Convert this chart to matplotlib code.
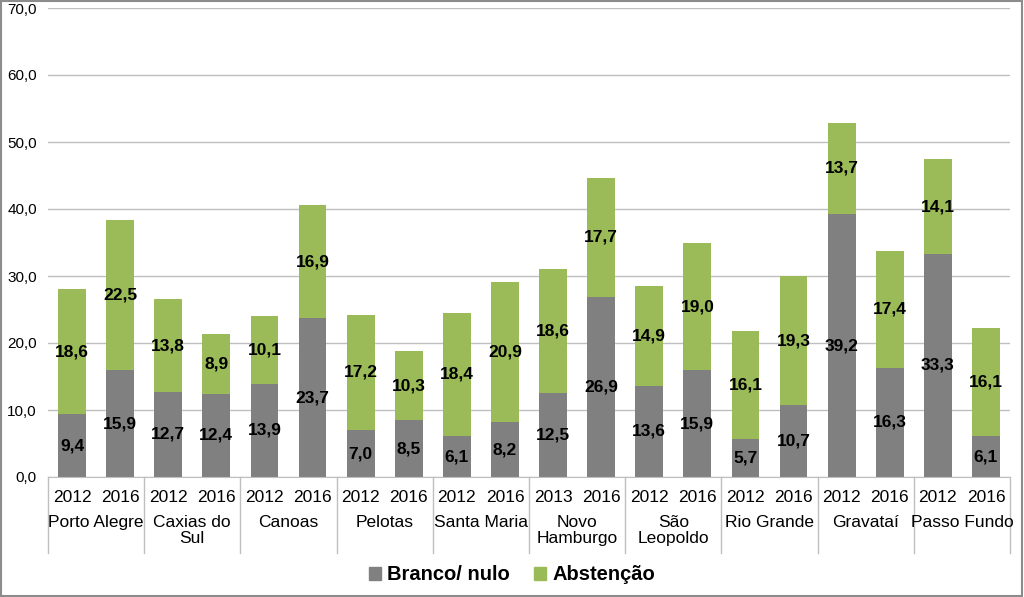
import numpy as np
import matplotlib
matplotlib.use("Agg")
import matplotlib.pyplot as plt
from matplotlib.patches import Patch, Rectangle
from matplotlib.transforms import blended_transform_factory

plt.rcParams['font.family'] = ['Liberation Sans', 'DejaVu Sans']

cities = ["Porto Alegre", "Caxias do\nSul", "Canoas", "Pelotas", "Santa Maria",
          "Novo\nHamburgo", "São\nLeopoldo", "Rio Grande", "Gravataí", "Passo Fundo"]
years = ["2012", "2016", "2012", "2016", "2012", "2016", "2012", "2016", "2012", "2016",
         "2013", "2016", "2012", "2016", "2012", "2016", "2012", "2016", "2012", "2016"]
branco = [9.4, 15.9, 12.7, 12.4, 13.9, 23.7, 7.0, 8.5, 6.1, 8.2,
          12.5, 26.9, 13.6, 15.9, 5.7, 10.7, 39.2, 16.3, 33.3, 6.1]
abstencao = [18.6, 22.5, 13.8, 8.9, 10.1, 16.9, 17.2, 10.3, 18.4, 20.9,
             18.6, 17.7, 14.9, 19.0, 16.1, 19.3, 13.7, 17.4, 14.1, 16.1]

gray = "#808080"
green = "#9BBB59"

fig = plt.figure(figsize=(10.24, 5.97), dpi=100)
ax = fig.add_axes([48/1024, 1 - 477/597, 962/1024, 469/597])

x = np.arange(len(branco))
w = 0.58
ax.bar(x, branco, width=w, color=gray, zorder=2)
ax.bar(x, abstencao, width=w, bottom=branco, color=green, zorder=2)

def fmt(v):
    return f"{v:.1f}".replace(".", ",")

for i in range(len(x)):
    ax.text(x[i], branco[i] / 2, fmt(branco[i]), ha='center', va='center',
            fontsize=12.5, fontweight='bold', color='black', zorder=3)
    ax.text(x[i], branco[i] + abstencao[i] / 2, fmt(abstencao[i]), ha='center',
            va='center', fontsize=12.5, fontweight='bold', color='black', zorder=3)

ax.set_xlim(-0.5, len(x) - 0.5)
ax.set_ylim(0, 70)
ax.set_yticks(np.arange(0, 71, 10))
ax.set_yticklabels([fmt(v) for v in np.arange(0, 71, 10)], fontsize=11)
ax.tick_params(axis='y', length=0, pad=8)
ax.set_xticks([])
ax.grid(axis='y', color='#BFBFBF', linewidth=1, zorder=0)
for s in ['left', 'right', 'top']:
    ax.spines[s].set_visible(False)
ax.spines['bottom'].set_color('#BFBFBF')

# two-level category axis
tr = blended_transform_factory(ax.transData, ax.transAxes)
for i in range(len(x)):
    ax.text(x[i], -0.043, years[i], transform=tr, ha='center', va='center', fontsize=12.5)
for k, c in enumerate(cities):
    ax.text(2 * k + 0.5, -0.082, c, transform=tr, ha='center', va='top',
            fontsize=12.5, linespacing=1.05)
for k in range(len(cities) + 1):
    ax.plot([2 * k - 0.5] * 2, [0, -0.162], transform=tr, color='#BFBFBF',
            linewidth=1, clip_on=False)

handles = [Patch(color=gray, label="Branco/ nulo"), Patch(color=green, label="Abstenção")]
fig.legend(handles=handles, loc='center', bbox_to_anchor=(0.5, 1 - 575/597), ncol=2,
           frameon=False, prop={'weight': 'bold', 'size': 14.5},
           handlelength=0.6, handleheight=0.6, handletextpad=0.3, columnspacing=1.2)

fig.patches.append(Rectangle((0.001, 0.002), 0.997, 0.996, transform=fig.transFigure,
                             fill=False, edgecolor='#8C8C8C', linewidth=1.5))

fig.savefig("out.png", dpi=100)
